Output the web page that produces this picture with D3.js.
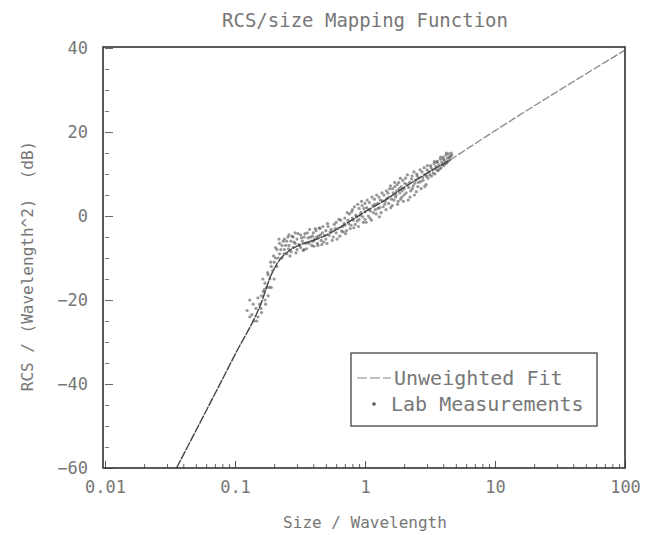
<!DOCTYPE html>
<html>
<head>
<meta charset="utf-8">
<script src="https://cdn.jsdelivr.net/npm/d3@7"></script>
<style>
  body { margin: 0; background: #fff; }
  text { font-family: "DejaVu Sans Mono", monospace; fill: #777; }
</style>
</head>
<body>
<svg width="653" height="535"></svg>
<script>
// tick labels
var xDecades = [0.01, 0.1, 1, 10, 100],
    xLabels = ["0.01", "0.1", "1", "10", "100"],
    yTicks = [-60, -40, -20, 0, 20, 40];

// unweighted fit
var fitSize = [0.0355, 0.1, 0.16, 0.19, 0.22, 0.26, 0.32, 0.4, 0.5, 0.7, 1, 1.5, 2, 3, 4.5, 10, 100],
    fitRcs  = [-60, -33, -20.5, -14, -10.5, -8.3, -6.8, -5.8, -4.6, -2, 1, 4.2, 6.8, 10.2, 13.3, 20.3, 39.5];

// lab measurements (size / wavelength, dB), first batch
var labSize = [
  0.124, 0.13, 0.138, 0.14, 0.145, 0.147, 0.15, 0.155, 0.16, 0.16, 0.164, 0.165, 0.17, 0.17, 0.175, 0.18, 0.18, 0.185, 0.19, 0.19, 0.195, 0.2, 0.2, 0.205, 0.21,
  0.21, 0.22, 0.22, 0.23, 0.23, 0.24, 0.24, 0.25, 0.25, 0.26, 0.26, 0.27, 0.27, 0.28, 0.28, 0.29, 0.29, 0.3, 0.3, 0.31, 0.32, 0.32, 0.33, 0.34, 0.34, 0.35,
  0.36, 0.37, 0.38, 0.39, 0.4, 0.4, 0.41, 0.42, 0.43, 0.44, 0.45, 0.46, 0.47, 0.48, 0.5, 0.5, 0.52, 0.53, 0.55, 0.56, 0.58, 0.6, 0.6, 0.62, 0.64, 0.65, 0.67, 0.68, 0.7, 0.7,
  0.72, 0.74, 0.76, 0.78, 0.8, 0.8, 0.82, 0.85, 0.87, 0.9, 0.9, 0.93, 0.95, 0.97, 1, 1, 1, 1.03, 1.06, 1.08, 1.1, 1.12, 1.15, 1.18, 1.2, 1.22, 1.25, 1.28, 1.3, 1.33, 1.36, 1.4, 1.42, 1.45, 1.48,
  1.5, 1.52, 1.55, 1.6, 1.62, 1.65, 1.7, 1.72, 1.75, 1.8, 1.82, 1.85, 1.9, 1.92, 1.95, 2, 2, 2.05, 2.1, 2.15, 2.2, 2.25, 2.3, 2.35, 2.4, 2.45, 2.5, 2.55, 2.6, 2.7, 2.75, 2.8, 2.9, 2.95, 3,
  3.05, 3.1, 3.2, 3.25, 3.3, 3.4, 3.45, 3.5, 3.6, 3.65, 3.7, 3.8, 3.85, 3.9, 4, 4.05, 4.1, 4.2, 4.25, 4.3, 4.4, 4.5, 4.55, 4.6
];
var labRcs = [
  -22.5, -24, -21, -25, -22, -25, -24, -21, -19, -23, -15, -18, -20, -16, -17, -14, -19, -15, -12, -17, -13, -11, -15, -10, -12,
  -8, -9, -6.5, -7, -10, -5.5, -8, -6, -9, -7, -4.5, -8.5, -6, -5, -7.5, -6.5, -4, -8, -5.5, -6.8, -4.5, -7.5, -6, -8, -5, -6.5,
  -4, -6.5, -5, -7, -4, -6, -5.5, -3.5, -6.5, -4.8, -3, -5.8, -4, -6.2, -3.5, -5.5, -2.5, -4.6, -3.2, -5.8, -2, -4, -1.5, -3, -4.8, -1, -2.5, -3.8, -0.5, -2.2,
  -3.5, -1, 0.5, -2.2, -0.5, 1.5, -2.8, 0.2, -1.2, 1.8, -0.8, 0.8, 2.5, -1.5, 1, 3, -0.8, 2, 0, 3.2, 1.2, -1, 2.5, 4, 1.5, 0.5, 3, 4.5, 2, 0.8, 3.6, 5, 2.8, 1.5, 4.2,
  5.5, 3, 6.5, 4, 2.5, 5.5, 7, 4.5, 6, 3.5, 8, 5.5, 7, 4.5, 8.5, 6.5, 5, 9, 7.5, 3.8, 8, 6, 9.5, 7.2, 5, 8.5, 10, 7, 9, 6.5, 10.5, 8.5, 9.8, 7.5, 11,
  9, 10.5, 12, 9.5, 11, 12.5, 10, 11.8, 13, 10.8, 12.2, 13.5, 11.5, 12.8, 14, 12, 13.2, 14.5, 12.6, 13.8, 14.8, 13.4, 14.2, 15
];

// second batch
var labSize2 = [
  0.13, 0.135, 0.15, 0.158, 0.168, 0.172, 0.178, 0.183, 0.188, 0.198,
  0.205, 0.215, 0.218, 0.225, 0.235, 0.238, 0.245, 0.255, 0.258, 0.265, 0.275, 0.285, 0.295, 0.305, 0.315, 0.325, 0.335, 0.345,
  0.355, 0.365, 0.375, 0.385, 0.395, 0.405, 0.415, 0.425, 0.435, 0.445, 0.455, 0.465, 0.475, 0.49, 0.51, 0.515, 0.54, 0.57, 0.59, 0.61, 0.63, 0.66, 0.69,
  0.71, 0.73, 0.75, 0.77, 0.79, 0.81, 0.83, 0.84, 0.86, 0.88, 0.89, 0.92, 0.94, 0.96, 0.98, 1.02, 1.04, 1.07, 1.09, 1.13, 1.16, 1.19, 1.23, 1.26, 1.29, 1.31, 1.35, 1.38, 1.43, 1.46,
  1.53, 1.57, 1.58, 1.63, 1.67, 1.69, 1.73, 1.77, 1.78, 1.83, 1.87, 1.88, 1.93, 1.97, 2.02, 2.07, 2.12, 2.17, 2.22, 2.28, 2.32, 2.38, 2.42, 2.48, 2.52, 2.58, 2.65, 2.68, 2.78, 2.85, 2.88, 2.98,
  3.02, 3.15, 3.22, 3.35, 3.42, 3.55, 3.58, 3.75, 3.82, 3.95, 4.02, 4.15, 4.22, 4.35, 4.45, 4.65
];
var labRcs2 = [
  -20, -23.5, -19.5, -22, -17.5, -21, -13.5, -17, -11, -9.5,
  -7.5, -10, -5.5, -8, -6, -9, -7, -5, -7.8, -9.5, -4.8, -6.2, -8.8, -4.2, -7, -5.2, -8.2, -4.2,
  -7.8, -5.2, -3.2, -6, -4.8, -7.2, -3, -5, -7, -2.8, -4.5, -6.8, -2.5, -4.6, -6.5, -1.8, -3.8, -5, -3, -5.5, -0.8, -3.6, -1.8,
  -4.2, 0.8, -1.8, -3, 1, -1, 2.2, -2, -0.2, 2.8, -2.5, 0.2, 3.5, -0.2, 1.8, -1.5, 3.8, 1.5, -0.5, 4.5, 0.8, 2.8, 5, 1.8, -0.2, 3.8, 5.5, 2.2, 3.5, 6,
  4.5, 7.2, 2, 6.5, 3.8, 8, 5, 7.5, 2.8, 6.5, 9, 4, 6, 3.5, 7.8, 5.5, 9.8, 6.8, 4.5, 8.8, 6.5, 10.5, 7.8, 5.8, 9.5, 8, 11, 8.2, 9.2, 11.5, 7, 9.5,
  12, 9.8, 11.5, 10.2, 13, 11, 12.8, 11.2, 14, 12.2, 13.5, 12.5, 15, 13, 14, 14.5
];

var svg = d3.select("svg"),
    margin = {top: 48, right: 28, bottom: 67, left: 105},
    width = +svg.attr("width") - margin.left - margin.right,
    height = +svg.attr("height") - margin.top - margin.bottom;

var x = d3.scaleLog().domain([0.01, 100]).range([0, width]),
    y = d3.scaleLinear().domain([-60, 40]).range([height, 0]);

var g = svg.append("g")
    .attr("transform", "translate(" + margin.left + "," + margin.top + ")");

// minor ticks on the bottom, inward
g.append("g")
    .attr("transform", "translate(0," + height + ")")
    .call(d3.axisBottom(x).tickValues(x.ticks()).tickSize(-4).tickFormat(""))
    .call(function(a) { a.select(".domain").remove(); a.selectAll("line").attr("stroke", "#666"); });

// decade ticks + labels
g.append("g")
    .attr("transform", "translate(0," + height + ")")
    .call(d3.axisBottom(x).tickValues(xDecades).tickSize(-7).tickPadding(13)
      .tickFormat(function(d, i) { return xLabels[i]; }))
    .call(function(a) {
      a.select(".domain").remove();
      a.selectAll("line").attr("stroke", "#555");
      a.selectAll("text").attr("font-size", 17).attr("fill", "#666")
        .style("font-family", "'DejaVu Sans Mono', monospace");
    });

// y minor ticks every 5 dB
g.append("g")
    .call(d3.axisLeft(y).tickValues(d3.range(-60, 41, 5)).tickSize(-4).tickFormat(""))
    .call(function(a) { a.select(".domain").remove(); a.selectAll("line").attr("stroke", "#777"); });

g.append("g")
    .call(d3.axisLeft(y).tickValues(yTicks).tickSize(-8).tickPadding(17))
    .call(function(a) {
      a.select(".domain").remove();
      a.selectAll("line").attr("stroke", "#666");
      a.selectAll("text").attr("font-size", 17).attr("fill", "#666")
        .style("font-family", "'DejaVu Sans Mono', monospace");
    });

// measurements
var allSize = labSize.concat(labSize2),
    allRcs = labRcs.concat(labRcs2);
var pts = allSize.map(function(s, i) { return {s: s, r: allRcs[i]}; });
g.selectAll(".pt")
  .data(pts)
  .enter().append("circle")
    .attr("class", "pt")
    .attr("cx", function(d) { return x(d.s); })
    .attr("cy", function(d) { return y(d.r); })
    .attr("r", 1.6)
    .attr("fill", "#444")
    .attr("fill-opacity", 0.55);

// fit line: darker through the measurements, lighter dashes beyond
var fit = fitSize.map(function(s, i) { return {s: s, r: fitRcs[i]}; });
var line = d3.line()
    .curve(d3.curveMonotoneX)
    .x(function(d) { return x(d.s); })
    .y(function(d) { return y(d.r); });

g.append("path")
    .datum(fit.filter(function(d) { return d.s <= 4.5; }))
    .attr("fill", "none")
    .attr("stroke", "#444")
    .attr("stroke-width", 1.4)
    .attr("stroke-dasharray", "9,1")
    .attr("d", line);

g.append("path")
    .datum(fit.filter(function(d) { return d.s >= 4.5; }))
    .attr("fill", "none")
    .attr("stroke", "#888")
    .attr("stroke-width", 1.3)
    .attr("stroke-dasharray", "8,2")
    .attr("d", line);

// frame
g.append("rect")
    .attr("x", -2).attr("y", -1)
    .attr("width", width + 2).attr("height", height + 1)
    .attr("fill", "none")
    .attr("stroke", "#333")
    .attr("stroke-width", 1.6);

// title and axis titles
svg.append("text")
    .attr("x", margin.left + width / 2)
    .attr("y", 27)
    .attr("text-anchor", "middle")
    .attr("font-size", 19)
    .attr("fill", "#777")
    .text("RCS/size Mapping Function");

svg.append("text")
    .attr("x", margin.left + width / 2)
    .attr("y", 528)
    .attr("text-anchor", "middle")
    .attr("font-size", 16)
    .text("Size / Wavelength");

svg.append("text")
    .attr("transform", "translate(33," + 266 + ") rotate(-90)")
    .attr("text-anchor", "middle")
    .attr("font-size", 16)
    .attr("fill", "#999")
    .attr("xml:space", "preserve")
    .style("white-space", "pre")
    .text("RCS / (Wavelength^2)  (dB)");

// legend
var lg = svg.append("g").attr("transform", "translate(351,353)");
lg.append("rect")
    .attr("width", 246).attr("height", 73)
    .attr("fill", "#fff")
    .attr("stroke", "#444")
    .attr("stroke-width", 1.3);
lg.append("line")
    .attr("x1", 6).attr("x2", 40).attr("y1", 25).attr("y2", 25)
    .attr("stroke", "#888").attr("stroke-width", 1.2)
    .attr("stroke-dasharray", "10,3");
lg.append("text").attr("x", 43).attr("y", 32).attr("font-size", 20).text("Unweighted Fit");
lg.append("circle").attr("cx", 23).attr("cy", 51).attr("r", 1.8).attr("fill", "#555");
lg.append("text").attr("x", 40).attr("y", 58).attr("font-size", 20).text("Lab Measurements");
</script>
</body>
</html>
